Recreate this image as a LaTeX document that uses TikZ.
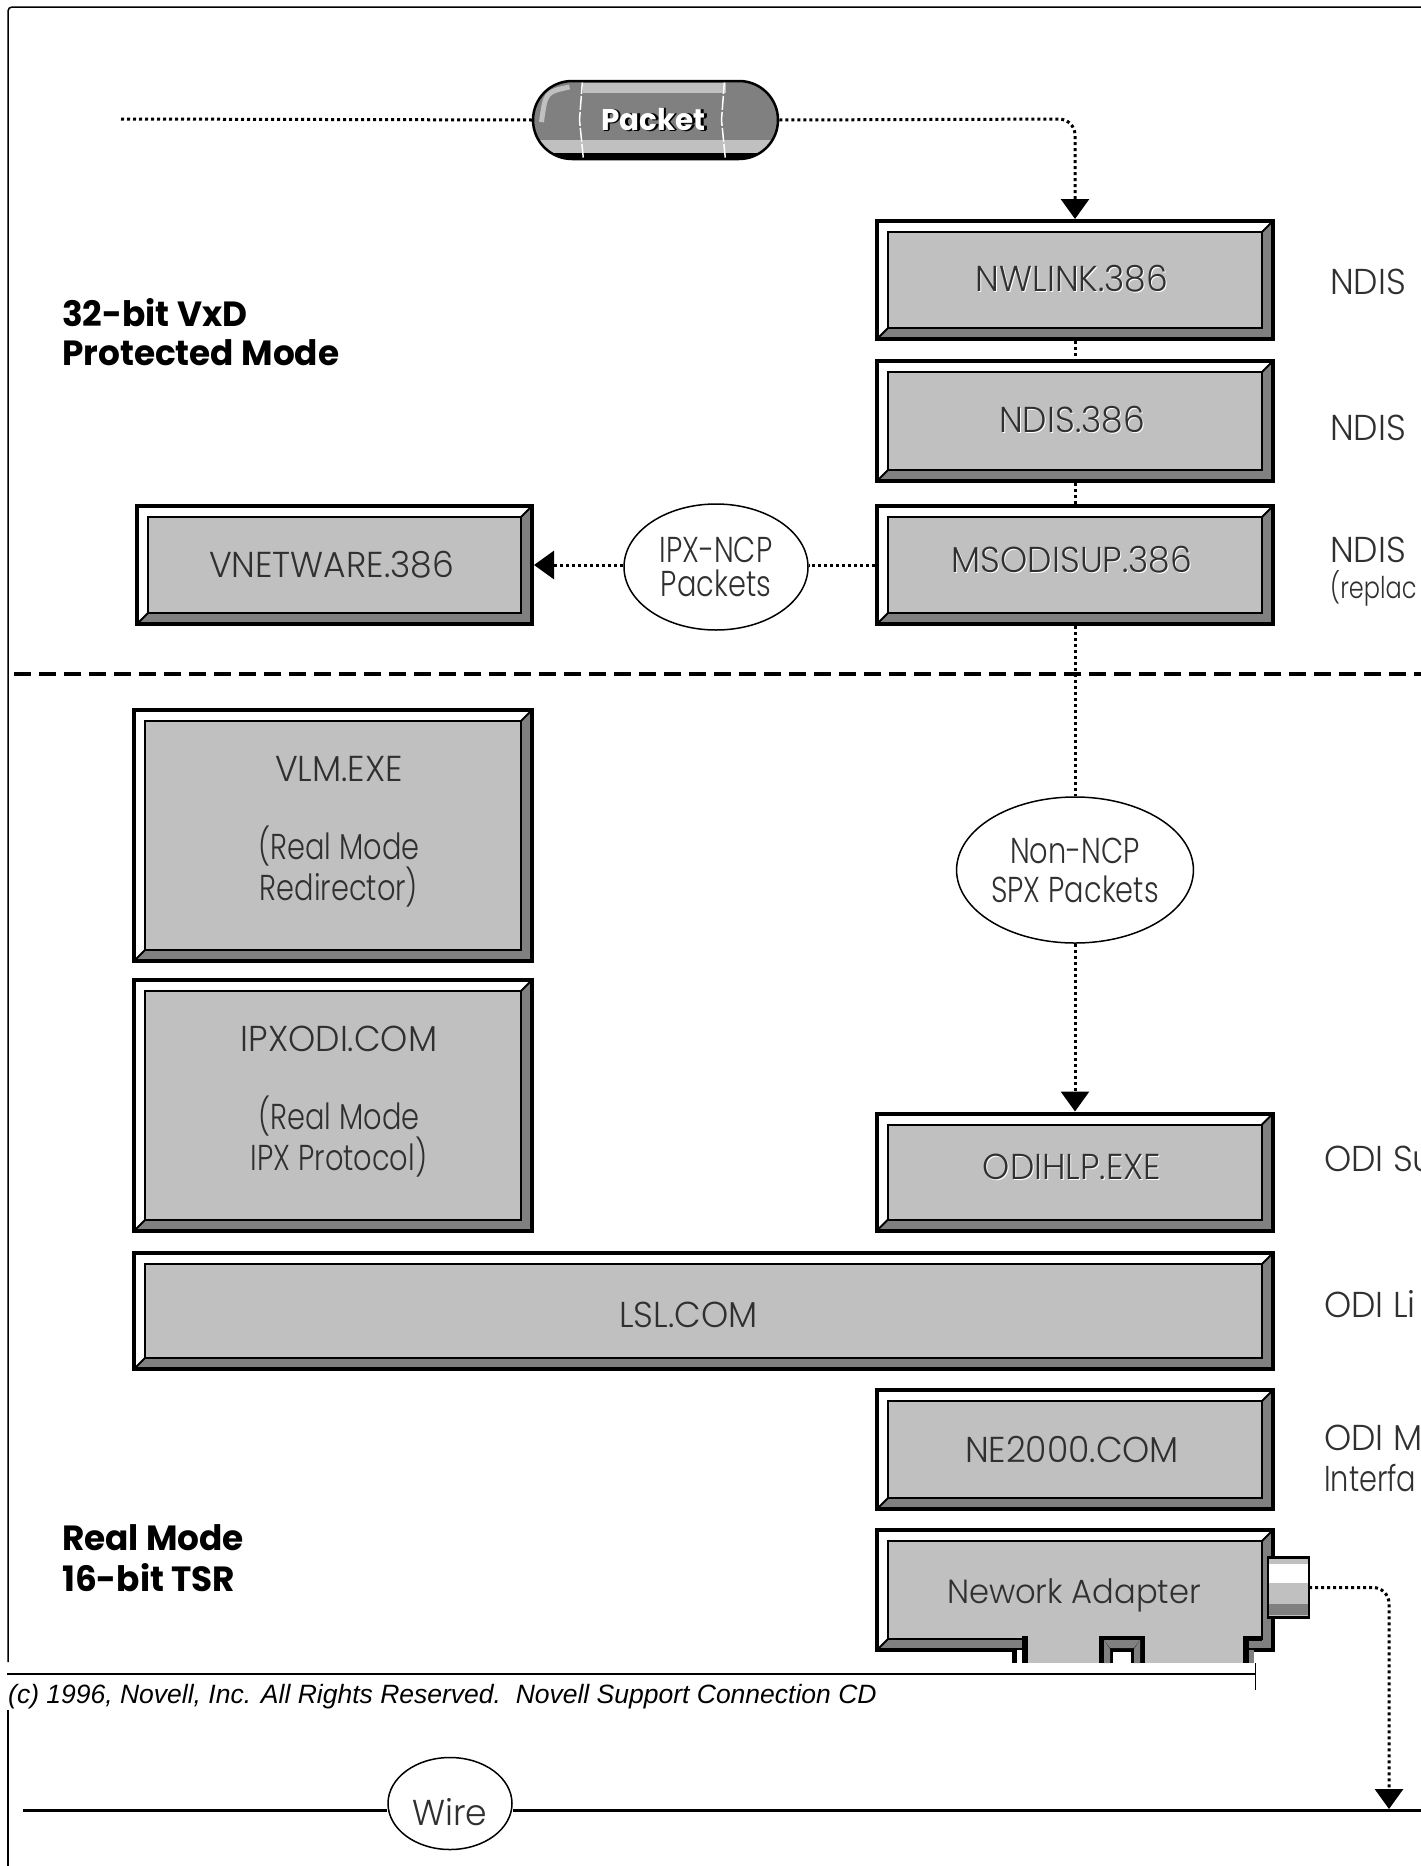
\documentclass[tikz,border=0pt]{standalone}
\usepackage{fontspec}
\usepackage{xcolor}
\usetikzlibrary{arrows.meta, shapes.geometric, shapes.misc}

\newfontfamily\thinfont{Poppins Light}[FakeStretch=0.8]
\newfontfamily\capsfont{Poppins Light}[FakeStretch=0.96]
\newfontfamily\heavyfont{Poppins Bold}[FakeStretch=0.98]
\newfontfamily\footfont{Liberation Sans Italic}

\definecolor{boxgray}{HTML}{C0C0C0}
\definecolor{bevelgray}{HTML}{808080}
\definecolor{inkgray}{HTML}{303030}

% raised look of the driver names
\newcommand{\emboss}[1]{\raisebox{3pt}{\leavevmode\rlap{\color{white}\kern1pt\raisebox{-1pt}{#1}}#1}\hspace*{6pt}}
\newcommand{\pktlabel}[1]{\leavevmode\rlap{\color{black}\kern1.5pt\raisebox{-1.5pt}{#1}}\rlap{\color{black}\kern2.5pt{#1}}\textcolor{white}{#1}}
\newcommand{\nudge}{\hspace*{12pt}}
% moves a text up or down inside its node, the node keeps its size
\newcommand{\liftby}[2]{\raisebox{#1}[\height][\depth]{#2}}

\tikzset{
    thinlabel/.style={font=\thinfont\fontsize{36}{39}\selectfont, text=inkgray},
    capslabel/.style={font=\capsfont\fontsize{36}{39}\selectfont},
    boldlabel/.style={font=\heavyfont\fontsize{35}{40}\selectfont, anchor=west, align=left, inner sep=0pt},
    sidelabel/.style={thinlabel, anchor=west, inner sep=0pt},
    bevelbox/.style={draw, line width=4pt, fill=boxgray, inner sep=0pt, align=center, thinlabel,
        path picture={
            \coordinate (bnw) at ([xshift=11pt,yshift=-11pt]path picture bounding box.north west);
            \coordinate (bse) at ([xshift=-11pt,yshift=11pt]path picture bounding box.south east);
            \fill[white] (path picture bounding box.north west) -- (path picture bounding box.north east)
                -- (bse|-bnw) -- (bnw|-bse) -- (path picture bounding box.south west) -- cycle;
            \fill[bevelgray] (path picture bounding box.south east) -- (path picture bounding box.north east)
                -- (bse|-bnw) -- (bse) -- (bnw|-bse) -- (path picture bounding box.south west) -- cycle;
            \draw[line width=2pt] (path picture bounding box.south west) -- (bnw|-bse);
            \draw[line width=2pt] (path picture bounding box.north east) -- (bse|-bnw);
            \draw[line width=2pt, fill=boxgray] (bnw) rectangle (bse);
        }},
    bubble/.style={ellipse, draw, line width=1.5pt, fill=white, inner sep=0pt, align=center, thinlabel},
    dotline/.style={line width=3pt, dash pattern=on 3pt off 3pt},
    dottip/.style={-{Triangle[length=20pt,width=28pt]}},
}

\begin{document}
\begin{tikzpicture}[x=1pt, y=-1pt]
    \useasboundingbox (0,0) rectangle (1421,1866);

    % Frame around the page
    \draw[line width=1.5pt, rounded corners=4pt] (1421,7) -- (8,7) -- (8,1662);
    \draw[line width=1.5pt] (8,1710) -- (8,1866);

    % Boundary between the two modes
    \coordinate (sepleft) at (14,674);
    \coordinate (sepright) at (1421,674);
    \draw[line width=4pt, dash pattern=on 17pt off 8pt] (sepleft) -- (sepright);

    % Packet on its way in
    \coordinate (pktstart) at (121,119);
    \node[rounded rectangle, draw, line width=2.5pt, fill=bevelgray, minimum width=245pt, minimum height=78pt, inner sep=0pt,
        font=\heavyfont\fontsize{30}{34}\selectfont,
        path picture={
            \coordinate (pc) at (path picture bounding box.center);
            \fill[boxgray] ([xshift=-73pt,yshift=37pt]pc) rectangle ([xshift=70pt,yshift=27pt]pc);
            \fill[boxgray] ([xshift=-120pt,yshift=-20pt]pc) rectangle ([xshift=120pt,yshift=-33pt]pc);
            \fill[black] ([xshift=-120pt,yshift=-33pt]pc) rectangle ([xshift=120pt,yshift=-42pt]pc);
            \draw[boxgray, line width=5pt] ([xshift=-114pt,yshift=-2pt]pc) .. controls ([xshift=-110pt,yshift=28pt]pc) .. ([xshift=-86pt,yshift=33pt]pc);
            \draw[white, line width=1.5pt, dash pattern=on 14pt off 2pt] ([xshift=-73pt,yshift=40pt]pc) -- ([xshift=-76pt,yshift=0pt]pc) -- ([xshift=-72pt,yshift=-40pt]pc);
            \draw[white, line width=1.5pt, dash pattern=on 14pt off 2pt] ([xshift=69pt,yshift=40pt]pc) -- ([xshift=66pt,yshift=0pt]pc) -- ([xshift=70pt,yshift=-40pt]pc);
        }] (packet) at (655.5,120) {\pktlabel{Packet}\hspace*{4pt}};

    % Drivers, 32-bit side
    \node[bevelbox, capslabel, minimum width=396pt, minimum height=118pt] (nwlink) at (1075,280) {\emboss{NWLINK.386}};
    \node[bevelbox, capslabel, minimum width=396pt, minimum height=120pt] (ndis) at (1075,421) {\emboss{NDIS.386}};
    \node[bevelbox, capslabel, minimum width=396pt, minimum height=118pt] (msodisup) at (1075,565) {\liftby{4pt}{\emboss{MSODISUP.386}}};
    \node[bevelbox, capslabel, minimum width=395pt, minimum height=118pt] (vnetware) at (334.5,565) {VNETWARE.386\hspace*{6pt}};
    \node[bubble, minimum width=184pt, minimum height=126pt] (ipxncp) at (716,567) {IPX-NCP\\[-5pt]Packets};

    % Drivers, real mode side
    \node[bevelbox, minimum width=398pt, minimum height=251pt] (vlm) at (333,835.5) {\nudge{\capsfont VLM.EXE}\\ \\\nudge(Real Mode\\\nudge Redirector)\\[-25pt]};
    \node[bevelbox, minimum width=398pt, minimum height=251pt] (ipxodi) at (333,1105.5) {\nudge{\capsfont IPXODI.COM}\\ \\\nudge(Real Mode\\\nudge IPX Protocol)\\[-25pt]};
    \node[bubble, minimum width=232pt, minimum height=146pt] (nonncp) at (1075,870) {Non-NCP\\SPX Packets};
    \node[bevelbox, capslabel, minimum width=396pt, minimum height=117pt] (odihlp) at (1075,1172) {\liftby{4pt}{\emboss{ODIHLP.EXE}}};
    \node[bevelbox, capslabel, minimum width=1139pt, minimum height=116pt] (lsl) at (703.5,1311) {\liftby{-3.5pt}{LSL.COM}\hspace*{30pt}};
    \node[bevelbox, capslabel, minimum width=396pt, minimum height=119pt] (ne2000) at (1075,1449.5) {NE2000.COM\hspace*{6pt}};

    % Card
    \node[bevelbox, font=\capsfont\fontsize{33.5}{39}\selectfont, minimum width=396pt, minimum height=120pt] (adapter) at (1075,1590) {\liftby{-5pt}{Nework Adapter}\hspace*{2pt}};

    % Plug of the adapter, over the card edge
    \node[draw, line width=2.5pt, minimum width=41pt, minimum height=60pt, inner sep=0pt, fill=boxgray, outer sep=0pt,
        path picture={
            \coordinate (pc) at (path picture bounding box.center);
            \fill[white] ([xshift=-25pt,yshift=25pt]pc) rectangle ([xshift=25pt,yshift=5pt]pc);
            \fill[boxgray] ([xshift=-25pt,yshift=30pt]pc) rectangle ([xshift=25pt,yshift=24pt]pc);
            \fill[bevelgray] ([xshift=-25pt,yshift=-16pt]pc) rectangle ([xshift=25pt,yshift=-27pt]pc);
        }] (plug) at (1288.5,1587.5) {};

    % Card edge with its tabs
    \fill[boxgray] (1028,1637) rectangle (1243,1663);
    \fill[black] (1012,1650) rectangle (1017,1663);
    \fill[white] (1017,1650) rectangle (1022,1663);
    \fill[black] (1022,1636) rectangle (1028,1663);
    \fill[black] (1099,1636) rectangle (1145,1663);
    \fill[bevelgray] (1104,1640) -- (1110,1649) -- (1110,1663) -- (1104,1663) -- cycle;
    \fill[bevelgray] (1140,1640) -- (1134,1649) -- (1134,1663) -- (1140,1663) -- cycle;
    \fill[bevelgray] (1104,1640) -- (1140,1640) -- (1134,1648) -- (1110,1648) -- cycle;
    \fill[white] (1113,1652) rectangle (1131,1663);
    \fill[black] (1243,1636) rectangle (1262,1641);
    \fill[black] (1243,1636) rectangle (1249,1663);
    \fill[bevelgray] (1249,1650) rectangle (1254,1663);

    % Copyright strip
    \coordinate (ruleleft) at (7,1674);
    \coordinate (ruleright) at (1256,1674);
    \draw[line width=2.5pt] (ruleleft) -- (ruleright);
    \coordinate (ticktop) at (1255.5,1663);
    \coordinate (tickend) at (1255.5,1690);
    \draw[line width=1pt] (ticktop) -- (tickend);
    \node[font=\footfont\fontsize{26.5}{30}\selectfont, anchor=west, inner sep=0pt] (notice) at (8,1697) {(c) 1996, Novell, Inc. All Rights Reserved.\ \ Novell Support Connection CD};

    % Wire
    \coordinate (wireleft) at (23,1810);
    \coordinate (wireright) at (1421,1810);
    \node[bubble, minimum width=124pt, minimum height=92pt] (wire) at (450,1803.5) {\liftby{-9pt}{\capsfont Wire}};
    \draw[line width=3pt] (wireleft) -- (wire.west |- wireleft);
    \draw[line width=3pt] (wire.east |- wireleft) -- (wireright);

    % Dotted packet path
    \coordinate (bendtop) at (1075,119);
    \coordinate (bendplug) at (1389,1587.5);
    \coordinate (drop) at (1389,1809);
    \draw[dotline] (pktstart) -- (packet.west);
    \draw[dotline, dottip, rounded corners=16pt] (packet.east) -- (bendtop) -- (nwlink.north);
    \draw[dotline] (nwlink.south) -- (ndis.north);
    \draw[dotline] (ndis.south) -- (msodisup.north);
    \draw[dotline] (msodisup.west) -- (ipxncp.east |- msodisup.west);
    \draw[dotline, dottip] (ipxncp.west |- msodisup.west) -- (vnetware.east);
    \draw[dotline] (msodisup.south) -- (nonncp.north);
    \draw[dotline, dottip] (nonncp.south) -- (odihlp.north);
    \draw[dotline, dottip, rounded corners=16pt] (plug.east) -- (bendplug) -- (drop);

    % Mode captions
    \node[boldlabel] (prot1) at (62,313) {32-bit VxD};
    \node[boldlabel] (prot2) at (62,353) {Protected Mode};
    \node[boldlabel] (real1) at (62,1538) {Real Mode};
    \node[boldlabel] (real2) at (62,1578) {16-bit TSR};

    % Interface names, cut by the page edge
    \node[sidelabel, capslabel] (ifa) at (1330,282) {NDIS};
    \node[sidelabel, capslabel] (ifb) at (1330,428) {NDIS};
    \node[sidelabel, capslabel] (ifc) at (1330,550) {NDIS};
    \node[sidelabel, font=\thinfont\fontsize{30}{34}\selectfont] (ifd) at (1330,588) {(replac};
    \node[sidelabel, capslabel] (ife) at (1324,1159) {ODI Su};
    \node[sidelabel, capslabel] (iff) at (1324,1304) {ODI Li};
    \node[sidelabel, capslabel] (ifg) at (1324,1438) {ODI M};
    \node[sidelabel] (ifh) at (1324,1478) {Interfa};
\end{tikzpicture}
\end{document}
